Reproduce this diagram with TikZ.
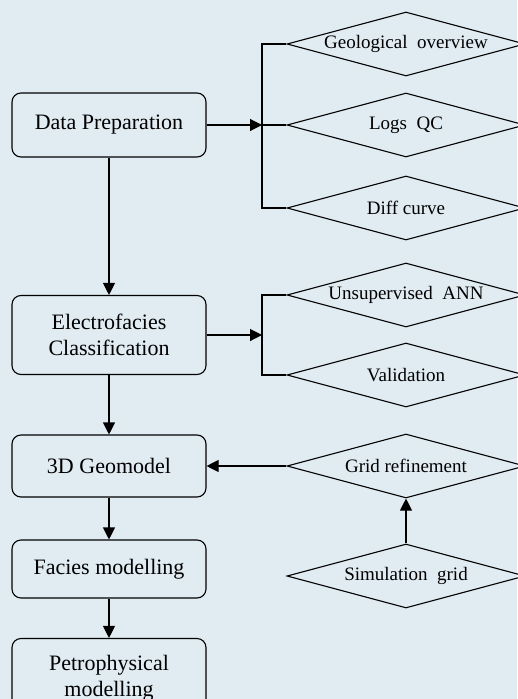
\documentclass[tikz,border=0pt]{standalone}
\usepackage{fontspec}
\setmainfont{Liberation Serif}
\usetikzlibrary{positioning}
\usetikzlibrary{arrows.meta,shapes.geometric}
\definecolor{bgblue}{RGB}{224,235,242}

\begin{document}
\begin{tikzpicture}[x=1pt,y=-1pt,>={Triangle[length=12pt,width=12pt]},line width=1.1pt,
  stage/.style={draw,rounded corners=9pt,minimum width=194pt,align=center,font=\fontsize{22}{26}\selectfont},
  task/.style={draw,diamond,aspect=3.7,inner sep=0pt,minimum width=238pt,minimum height=64pt,font=\fontsize{19}{22}\selectfont}]
  \fill[bgblue] (0,0) rectangle (517,699);
  \useasboundingbox (0,0) rectangle (517,699);

  \node[stage,minimum height=64pt] (DataPrep) at (109,125)                          {Data Preparation};
  \node[stage,minimum height=79pt] (Electro)  [node distance=210pt,below of=DataPrep] {Electrofacies\\Classification};
  \node[stage,minimum height=62pt] (Geomodel) [node distance=131pt,below of=Electro]  {3D Geomodel};
  \node[stage,minimum height=58pt] (Facies)   [node distance=103pt,below of=Geomodel] {Facies modelling};
  \node[stage,minimum height=79pt] (Petro)    [node distance=109pt,below of=Facies]   {Petrophysical\\modelling};

  \node[task] (LogsQC)    [node distance=297pt,right of=DataPrep] {Logs\ \ QC};
  \node[task] (GeoView)   [node distance=81pt,above of=LogsQC]   {Geological\ \ overview};
  \node[task] (DiffCurve) [node distance=83pt,below of=LogsQC]   {Diff curve};
  \node[task] (Unsup)     at (406,295)                            {Unsupervised\ \ ANN};
  \node[task] (Valid)     at (406,375)                            {Validation};
  \node[task] (GridRef)   [node distance=297pt,right of=Geomodel] {Grid refinement};
  \node[task] (SimGrid)   [node distance=110pt,below of=GridRef]  {Simulation\ \ grid};

  \coordinate (dpjoin) at (262,125);
  \coordinate (efjoin) at (262,335);

  \draw (GeoView.west) -| (dpjoin) |- (DiffCurve.west);
  \draw (dpjoin) -- (LogsQC.west);
  \draw (Unsup.west) -| (efjoin) |- (Valid.west);

  \path[->,draw]
     (DataPrep) edge (dpjoin)
      (Electro) edge (efjoin)
     (DataPrep) edge (Electro)
      (Electro) edge (Geomodel)
     (Geomodel) edge (Facies)
       (Facies) edge (Petro)
      (GridRef) edge (Geomodel)
      (SimGrid) edge (GridRef);
\end{tikzpicture}
\end{document}
